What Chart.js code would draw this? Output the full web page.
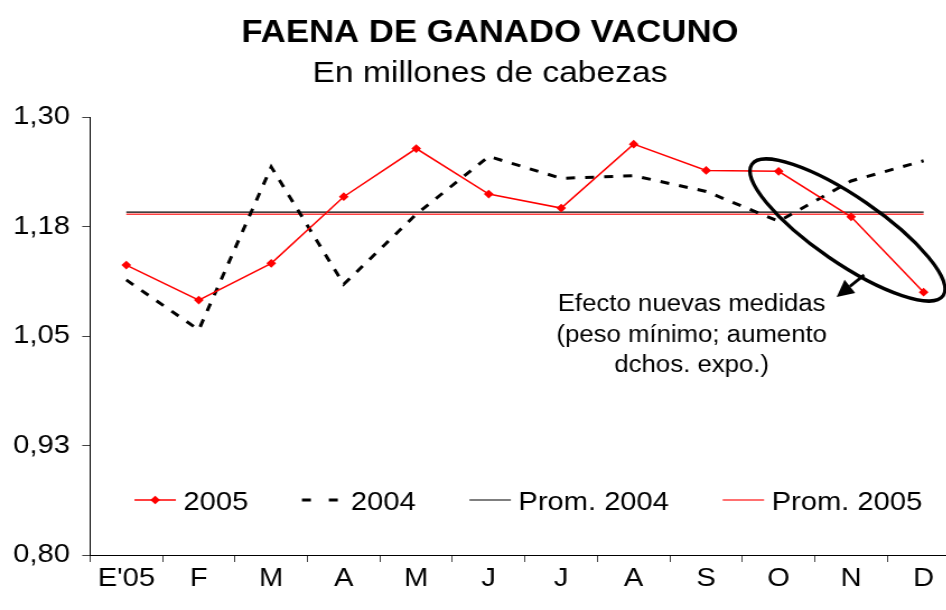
<!DOCTYPE html>
<html>
<head>
<meta charset="utf-8">
<script src="https://cdn.jsdelivr.net/npm/chart.js@4"></script>
<style>
    body { margin: 0; overflow: hidden; background: #fff; }
    /* el gráfico original viene estirado a lo ancho */
    #grafico { transform: scaleX(1.12); transform-origin: 0 0; display: block; }
</style>
</head>
<body>
<canvas id="grafico" width="875" height="610"></canvas>
<script>
// Datos (millones de cabezas)
const meses = ["E'05", 'F', 'M', 'A', 'M', 'J', 'J', 'A', 'S', 'O', 'N', 'D'];
const faena2005 = [1.131, 1.091, 1.133, 1.209, 1.264, 1.212, 1.196, 1.269, 1.239, 1.238, 1.186, 1.100];
const faena2004 = [1.114, 1.057, 1.243, 1.109, 1.189, 1.255, 1.230, 1.233, 1.215, 1.181, 1.227, 1.250];
const prom2004 = [1.1915, 1.1915, 1.1915, 1.1915, 1.1915, 1.1915, 1.1915, 1.1915, 1.1915, 1.1915, 1.1915, 1.1915];
const prom2005 = [1.189, 1.189, 1.189, 1.189, 1.189, 1.189, 1.189, 1.189, 1.189, 1.189, 1.189, 1.189];
const yTicks = [0.80, 0.925, 1.05, 1.175, 1.30];
const yTickLabels = ['0,80', '0,93', '1,05', '1,18', '1,30'];
const titulo = 'FAENA DE GANADO VACUNO';
const subtitulo = 'En millones de cabezas';
const notaTexto = ['Efecto nuevas medidas', '(peso mínimo; aumento', 'dchos. expo.)'];

const ESTIRA = 1.12;
const FUENTE = 'Arial, "Liberation Sans", sans-serif';

// títulos centrados en todo el lienzo
const tituloPlugin = {
    id: 'titulos',
    afterDraw(chart) {
        const ctx = chart.ctx;
        ctx.save();
        ctx.fillStyle = '#000';
        ctx.textAlign = 'center';
        ctx.textBaseline = 'middle';
        ctx.font = 'bold 31px ' + FUENTE;
        ctx.fillText(titulo, chart.width / 2, 33.5);
        ctx.font = '30px ' + FUENTE;
        ctx.fillText(subtitulo, chart.width / 2, 74);
        ctx.restore();
    }
};

// leyenda dibujada dentro del área del gráfico
const leyendaPlugin = {
    id: 'leyendaInterna',
    afterDatasetsDraw(chart) {
        const ctx = chart.ctx;
        const area = chart.chartArea;
        const y = 500;
        const simbolo = 37, hueco = 6.7, entre = 48;
        ctx.save();
        ctx.font = '26px ' + FUENTE;
        const items = chart.data.datasets.map(ds => ({ ds, w: ctx.measureText(ds.label).width }));
        let total = items.reduce((s, it) => s + simbolo + hueco + it.w, 0) + entre * (items.length - 1);
        let x = (area.left + area.right) / 2 - total / 2 + 3;
        items.forEach(it => {
            const ds = it.ds;
            ctx.beginPath();
            ctx.strokeStyle = ds.borderColor;
            ctx.lineWidth = ds.borderWidth;
            ctx.setLineDash(ds.borderDash ? [8, 16] : []);
            ctx.moveTo(x, y);
            ctx.lineTo(x + simbolo, y);
            ctx.stroke();
            ctx.setLineDash([]);
            if (ds.pointRadius > 0) {
                Chart.helpers.drawPoint(ctx, { pointStyle: 'rectRot', radius: ds.pointRadius, borderWidth: 1 }, x + simbolo / 2, y);
                ctx.fillStyle = ds.pointBackgroundColor;
                ctx.fill();
            }
            ctx.fillStyle = '#000';
            ctx.textBaseline = 'alphabetic';
            ctx.textAlign = 'left';
            ctx.fillText(ds.label, x + simbolo + hueco, 510);
            x += simbolo + hueco + it.w + entre;
        });
        ctx.restore();
    }
};

// elipse, flecha y nota
const notaPlugin = {
    id: 'nota',
    afterDatasetsDraw(chart) {
        const ctx = chart.ctx;
        const xs = chart.scales.x, ys = chart.scales.y;
        const px = v => xs.getPixelForValue(v) * ESTIRA;

        ctx.save();
        ctx.scale(1 / ESTIRA, 1);
        ctx.strokeStyle = '#000';
        ctx.lineWidth = 3.5;
        ctx.beginPath();
        ctx.ellipse(px(9.95), ys.getPixelForValue(1.171), 116, 33, 34.4 * Math.PI / 180, 0, Math.PI * 2);
        ctx.stroke();

        // flecha
        const x0 = px(10.18), y0 = ys.getPixelForValue(1.1196);
        const x1 = px(9.80), y1 = ys.getPixelForValue(1.0945);
        const ang = Math.atan2(y1 - y0, x1 - x0);
        const largo = 17, ancho = 8.5;
        const bx = x1 - Math.cos(ang) * largo, by = y1 - Math.sin(ang) * largo;
        ctx.lineWidth = 3;
        ctx.beginPath();
        ctx.moveTo(x0, y0);
        ctx.lineTo(bx, by);
        ctx.stroke();
        ctx.fillStyle = '#000';
        ctx.beginPath();
        ctx.moveTo(x1, y1);
        ctx.lineTo(bx + Math.sin(ang) * ancho, by - Math.cos(ang) * ancho);
        ctx.lineTo(bx - Math.sin(ang) * ancho, by + Math.cos(ang) * ancho);
        ctx.closePath();
        ctx.fill();
        ctx.restore();

        ctx.save();
        ctx.font = '23px ' + FUENTE;
        ctx.fillStyle = '#000';
        ctx.textAlign = 'center';
        ctx.textBaseline = 'alphabetic';
        const cx = xs.getPixelForValue(7.8);
        const base = [1.0785, 1.0432, 1.0089];
        notaTexto.forEach((t, i) => ctx.fillText(t, cx, ys.getPixelForValue(base[i])));
        ctx.restore();
    }
};

const ctx = document.getElementById('grafico').getContext('2d');
new Chart(ctx, {
    type: 'line',
    data: {
        labels: meses,
        datasets: [{
            label: '2005',
            data: faena2005,
            borderColor: '#ff0000',
            borderWidth: 1.5,
            pointStyle: 'rectRot',
            pointRadius: 3.3,
            pointBackgroundColor: '#ff0000',
            pointBorderColor: '#ff0000',
            tension: 0
        },
        {
            label: '2004',
            data: faena2004,
            borderColor: '#000',
            borderWidth: 3,
            borderDash: [8, 9],
            pointRadius: 0,
            tension: 0
        },
        {
            label: 'Prom. 2004',
            data: prom2004,
            borderColor: '#000',
            borderWidth: 1.2,
            pointRadius: 0
        },
        {
            label: 'Prom. 2005',
            data: prom2005,
            borderColor: 'rgba(255,0,0,0.75)',
            borderWidth: 1.5,
            pointRadius: 0
        }]
    },
    options: {
        responsive: false,
        animation: false,
        layout: { padding: { left: 0, right: 18, top: 117, bottom: 0 } },
        plugins: {
            legend: { display: false },
            tooltip: { enabled: false },
            title: { display: false }
        },
        scales: {
            x: {
                offset: true,
                afterFit: s => { s.height = 55; },
                grid: { drawOnChartArea: false, offset: true, tickLength: 7, color: '#444' },
                border: { color: '#000', width: 1 },
                ticks: { color: '#000', padding: 1, font: { family: FUENTE, size: 26 } }
            },
            y: {
                min: 0.80,
                max: 1.30,
                afterFit: s => { s.width = 80.4; },
                afterBuildTicks: s => { s.ticks = yTicks.map(v => ({ value: v })); },
                grid: { drawOnChartArea: false, tickLength: 7, color: '#444' },
                border: { color: '#000', width: 1 },
                ticks: {
                    color: '#000',
                    padding: 11,
                    font: { family: FUENTE, size: 26 },
                    callback: (v, i) => yTickLabels[i]
                }
            }
        }
    },
    plugins: [tituloPlugin, leyendaPlugin, notaPlugin]
});
</script>
</body>
</html>
